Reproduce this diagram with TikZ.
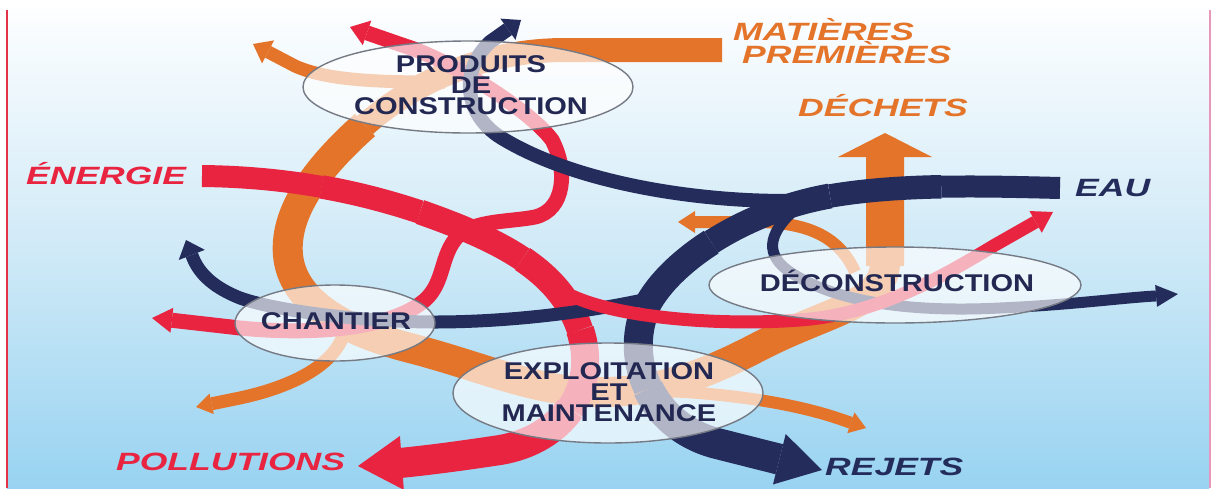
\documentclass[tikz,border=0pt]{standalone}
\usepackage{fontspec}
\usetikzlibrary{arrows.meta,shapes.geometric}
\newfontfamily\stagefont{Liberation Sans}[UprightFont={* Bold},FakeStretch=1.2]
\newfontfamily\tagfont{Liberation Sans}[UprightFont={* Bold Italic},FakeStretch=1.42]
\definecolor{orc}{RGB}{228,116,42}
\definecolor{rdc}{RGB}{232,36,64}
\definecolor{nvc}{RGB}{36,44,92}
\definecolor{txc}{RGB}{34,40,82}
\definecolor{elc}{RGB}{118,122,132}
\definecolor{bgtop}{RGB}{253,254,255}
\definecolor{bgmid}{RGB}{208,234,247}
\definecolor{bgbot}{RGB}{152,211,241}
\definecolor{lred}{RGB}{226,50,70}
\definecolor{lpink}{RGB}{232,150,185}
\begin{document}
\begin{tikzpicture}[x=1pt,y=-1pt,
  orflow/.style={draw=orc,line width=#1,line cap=butt},
  rdflow/.style={draw=rdc,line width=#1,line cap=butt},
  nvflow/.style={draw=nvc,line width=#1,line cap=butt},
  stage/.style={ellipse,draw=elc,line width=1.4pt,fill=white,fill opacity=0.65,inner sep=0pt},
  stagetext/.style={font=\stagefont\fontsize{24.2}{21}\selectfont,text=txc,inner sep=0pt,align=center,anchor=south},
  tagtext/.style={font=\tagfont\fontsize{25}{21}\selectfont,inner sep=0pt,align=left,anchor=south west}]
\useasboundingbox (0,0) rectangle (1216,488);
% background
\fill[white] (0,0) rectangle (1216,488);
\shade[top color=bgtop,bottom color=bgbot,middle color=bgmid] (7,8) rectangle (1209,488);
\draw[lred,line width=2pt] (6.5,10) -- (6.5,488);
\draw[lpink,line width=2pt] (1210,10) -- (1210,488);
% orange main flow
\draw[orflow=24pt] (722,50) -- (565,50) .. controls (480,50) and (410,85) .. (365,125);
\draw[orflow=30pt] (365,125) .. controls (320,165) and (284,210) .. (288,255)
  .. controls (292,300) and (340,330) .. (410,348)
  .. controls (480,366) and (530,390) .. (590,392)
  .. controls (660,394) and (710,372) .. (760,346)
  .. controls (830,310) and (885,305) .. (885,262);
\fill[orc] (866,266) -- (866,157) -- (838,157) -- (885,133) -- (932,157) -- (904,157) -- (904,266) -- cycle;
% orange side arrows
\draw[orflow=13pt,-{Triangle[length=17pt,width=26pt,line width=0pt]}] (445,82) .. controls (390,82) and (330,82) .. (295,66) -- (253,44);
\draw[orflow=13pt,-{Triangle[length=16pt,width=21pt,line width=0pt]}] (345,330) .. controls (335,370) and (280,390) .. (235,399) -- (196,407);
\draw[orflow=12pt,-{Triangle[length=16pt,width=22pt,line width=0pt]}] (640,390) .. controls (720,392) and (790,402) .. (840,419) -- (866,428);
\draw[orflow=12pt,-{Triangle[length=17pt,width=22pt,line width=0pt]}] (855,272) .. controls (840,238) and (810,223) .. (760,222) -- (678,222);
% red energy flow (tapering)
\draw[rdflow=22pt] (202,176) .. controls (246,176.5) and (285.5,180.5) .. (321.5,186.9);
\draw[rdflow=23.5pt] (321.5,186.9) .. controls (357.5,193.25) and (390,202) .. (420,212);
\draw[rdflow=25pt] (420,212) .. controls (460,226) and (495,240.5) .. (522.5,259);
\draw[rdflow=26.5pt] (522.5,259) .. controls (550,277.5) and (570,300) .. (580,330);
\draw[rdflow=28pt] (580,330) .. controls (590,360) and (585,387.5) .. (570,408.75);
\draw[rdflow=30pt,-{Triangle[length=44pt,width=54pt,line width=0pt]}] (570,408.75) .. controls (555,430) and (530,445) .. (500,450) .. controls (460,456) and (430,460) .. (400,463) -- (358,466);
\draw[rdflow=15pt,{Triangle[length=20pt,width=25pt,line width=0pt]}-{Triangle[length=18pt,width=26pt,line width=0pt]}]
  (152,318) -- (240,328) .. controls (310,335) and (390,330) .. (425,300)
  .. controls (445,282) and (440,255) .. (458,236)
  .. controls (475,220) and (510,222) .. (535,217)
  .. controls (565,210) and (568,170) .. (552,140)
  .. controls (530,110) and (450,60) .. (405,46) -- (350,27);
% navy water flow (tapering)
\draw[nvflow=22pt] (1060,188) .. controls (1020,187) and (980,186) .. (941.25,186.75);
\draw[nvflow=23.5pt] (941.25,186.75) .. controls (902.5,187.5) and (865,190) .. (830,196);
\draw[nvflow=25pt] (830,196) .. controls (785,204) and (743.75,221.25) .. (711.25,242.1);
\draw[nvflow=27pt] (711.25,242.1) .. controls (678.75,263) and (655,287.5) .. (645,310);
\draw[nvflow=29pt] (645,310) .. controls (635,335) and (636.25,363.75) .. (648.1,388.5);
\draw[nvflow=31pt,-{Triangle[length=44pt,width=52pt,line width=0pt]}] (648.1,388.5) .. controls (660,413.25) and (682.5,434) .. (715,443) -- (822,470);
\draw[nvflow=14pt,-{Triangle[length=16pt,width=26pt,line width=0pt]}] (815,200) .. controls (730,205) and (590,190) .. (505,140) .. controls (465,118) and (458,72) .. (490,42) -- (521,20);
\draw[nvflow=13pt,-{Triangle[length=16pt,width=28pt,line width=0pt]}] (652,298) .. controls (590,312) and (510,322) .. (435,322) .. controls (370,322) and (280,312) .. (240,298) .. controls (215,288) and (200,275) .. (193,258) -- (186,240);
\draw[nvflow=11pt,-{Triangle[length=22pt,width=22pt,line width=0pt]}] (792,212) .. controls (768,235) and (765,255) .. (790,272) .. controls (840,305) and (920,312) .. (1000,308) .. controls (1070,305) and (1120,298) .. (1155,296) -- (1178,294);
% red branch to deconstruction
\draw[rdflow=13pt,-{Triangle[length=20pt,width=25pt,line width=0pt]}] (572,296) .. controls (620,318) and (720,326) .. (800,320) .. controls (880,314) and (945,275) .. (995,245) -- (1053,212);
% stages
\node[stage,minimum width=330pt,minimum height=92pt] (prod) at (468,87) {};
\node[stage,minimum width=200pt,minimum height=76pt] (chan) at (335,323) {};
\node[stage,minimum width=310pt,minimum height=100pt] (expl) at (608,393) {};
\node[stage,minimum width=372pt,minimum height=76pt] (deco) at (895,285) {};
\node[stagetext] (ptxt) at (471,115) {PRODUITS\\DE\\CONSTRUCTION};
\node[stagetext] (ctxt) at (336,330) {CHANTIER};
\node[stagetext] (etxt) at (609,422) {EXPLOITATION\\ET\\MAINTENANCE};
\node[stagetext] (dtxt) at (897,292) {DÉCONSTRUCTION};
% labels
\node[tagtext,text=orc] (mp) at (733,64) {MATIÈRES\\\hspace*{9pt}PREMIÈRES};
\node[tagtext,text=orc] (dech) at (798,117) {DÉCHETS};
\node[tagtext,text=rdc] (ener) at (26,185) {ÉNERGIE};
\node[tagtext,text=nvc] (eau) at (1075,197) {EAU};
\node[tagtext,text=rdc] (poll) at (116,471) {POLLUTIONS};
\node[tagtext,text=nvc] (rej) at (825,476) {REJETS};
\end{tikzpicture}
\end{document}
